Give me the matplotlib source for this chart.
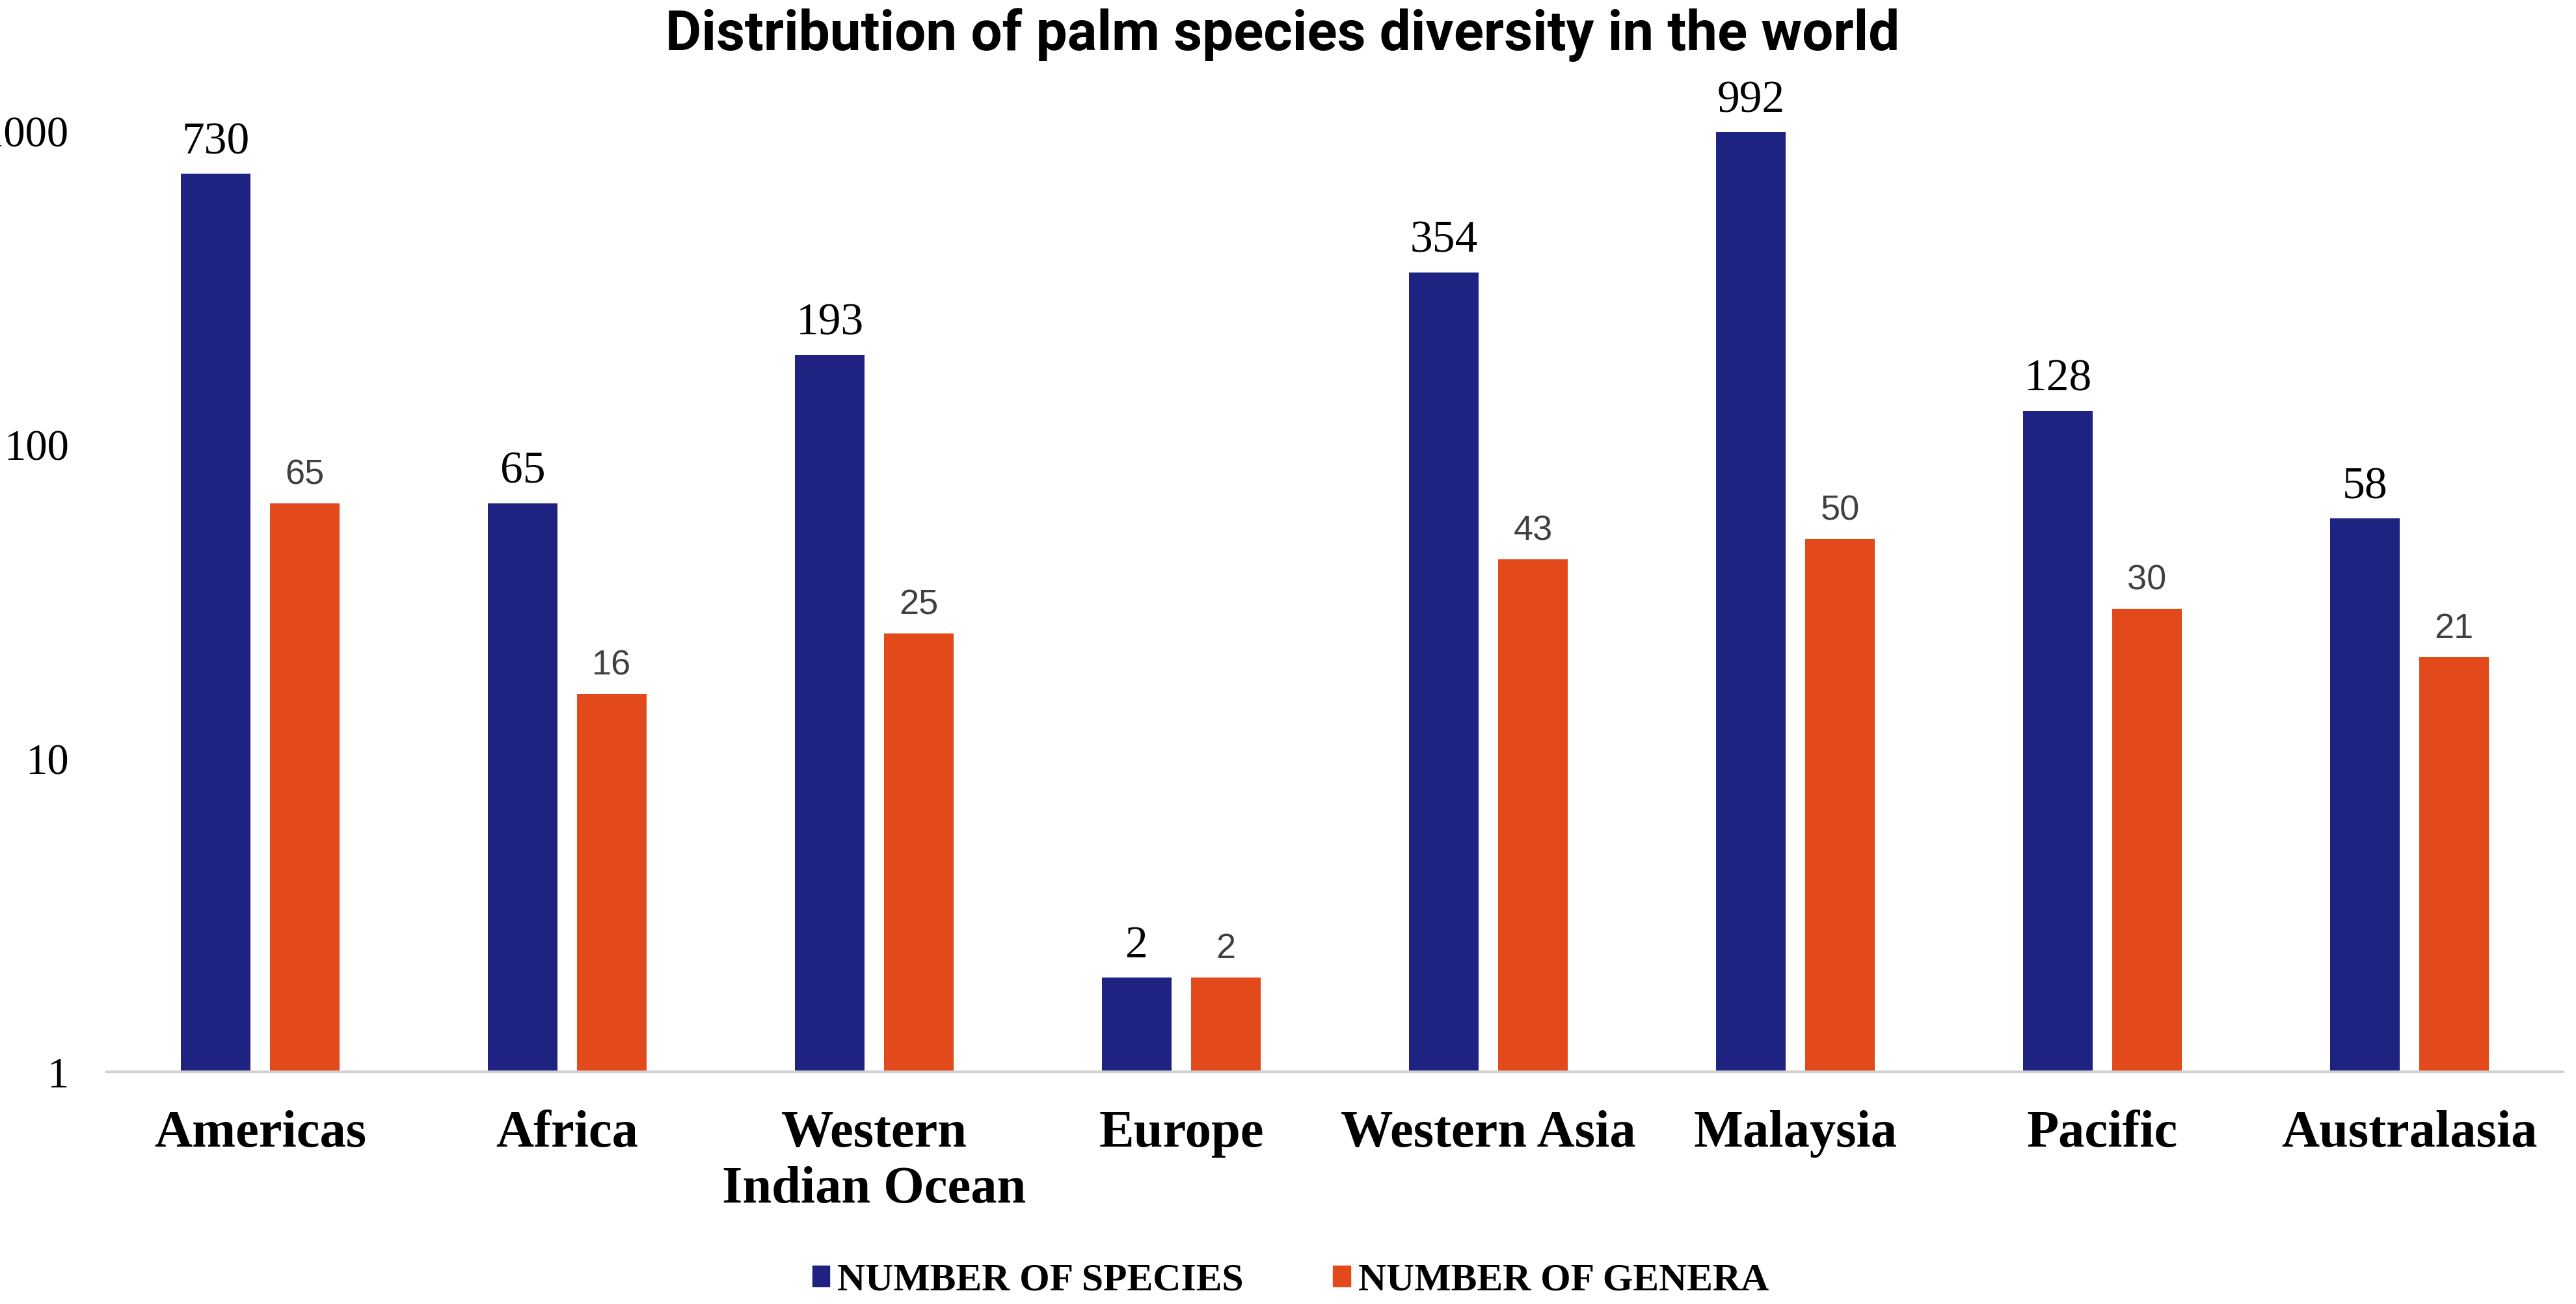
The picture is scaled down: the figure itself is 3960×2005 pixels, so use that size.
import matplotlib
matplotlib.use("Agg")
import matplotlib.pyplot as plt
import numpy as np
from matplotlib.patches import Patch

categories = ["Americas", "Africa", "Western\nIndian Ocean", "Europe",
              "Western Asia", "Malaysia", "Pacific", "Australasia"]
species = [730, 65, 193, 2, 354, 992, 128, 58]
genera = [65, 16, 25, 2, 43, 50, 30, 21]
yticks = [1, 10, 100, 1000]
ytick_labels = ["1", "10", "100", "1000"]

c_species = "#1E2381"
c_genera = "#E2491B"

fig = plt.figure(figsize=(39.6, 20.06), dpi=100)
ax = fig.add_axes([164/3960, 1-1649/2006, (3940-164)/3960, (1649-202)/2006])

x = np.arange(len(categories))
w = 0.225
off = 0.145
ax.bar(x - off, species, w, color=c_species, bottom=0)
ax.bar(x + off, genera, w, color=c_genera, bottom=0)
ax.set_yscale("log")
ax.set_ylim(1, 1000)
ax.set_xlim(-0.5, len(categories) - 0.5)

for xi, v in zip(x, species):
    ax.annotate(str(v), (xi - off, v), xytext=(0, 12), textcoords="offset points",
                ha="center", va="bottom", fontsize=50, family="Liberation Serif",
                color="black")
for xi, v in zip(x, genera):
    ax.annotate(str(v), (xi + off, v), xytext=(0, 14), textcoords="offset points",
                ha="center", va="bottom", fontsize=39, family="Liberation Sans",
                color="#404040")

ax.set_yticks(yticks)
ax.set_yticklabels(ytick_labels, fontsize=48, family="Liberation Serif")
ax.yaxis.set_minor_locator(matplotlib.ticker.NullLocator())
ax.set_xticks(x)
ax.set_xticklabels(categories, fontsize=58, family="Liberation Serif",
                   fontweight="bold", linespacing=1.22)
ax.tick_params(axis="x", length=0, pad=42)
ax.tick_params(axis="y", length=0, pad=42)
for s in ["top", "right", "left"]:
    ax.spines[s].set_visible(False)
ax.spines["bottom"].set_color("#D0D0D0")
ax.spines["bottom"].set_linewidth(3)

fig.text(0.498, 1 - 77/2006, "Distribution of palm species diversity in the world",
         ha="center", va="baseline", fontsize=61.5, fontweight="bold",
         family="Roboto")

handles = [Patch(color=c_species, label="NUMBER OF SPECIES"),
           Patch(color=c_genera, label="NUMBER OF GENERA")]
fig.legend(handles=handles, loc="center", bbox_to_anchor=(0.501, 1 - 1970/2006),
           ncol=2, frameon=False, prop={"family": "Liberation Serif", "size": 43,
                                        "weight": "bold"},
           handlelength=0.45, handleheight=0.45, handletextpad=0.2, columnspacing=2.3)

fig.savefig("out.png", dpi=100)
